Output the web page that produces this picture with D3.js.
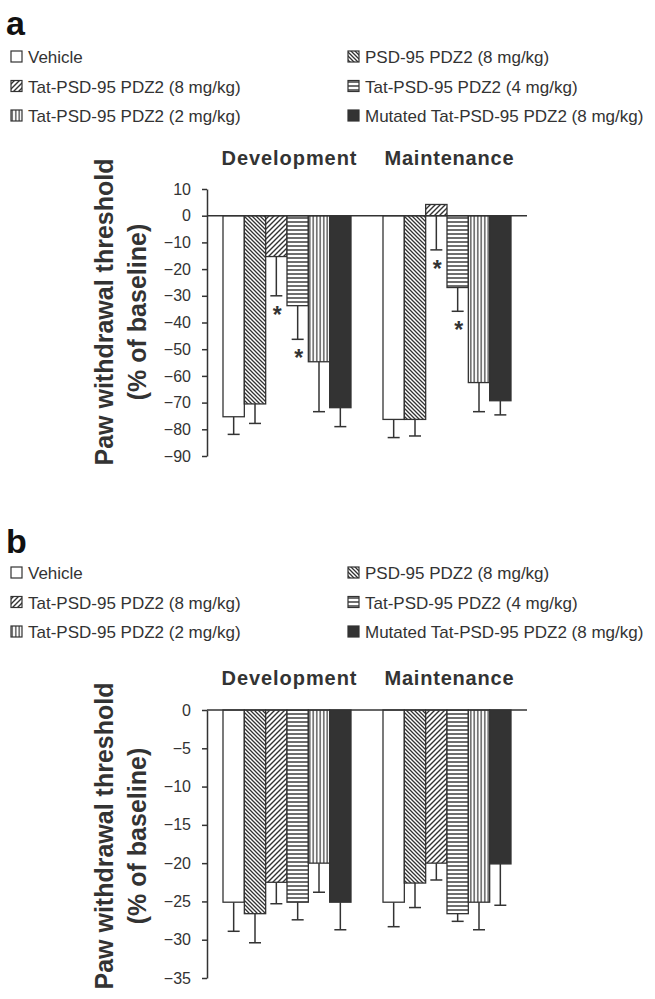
<!DOCTYPE html>
<html>
<head>
<meta charset="utf-8">
<script src="https://cdn.jsdelivr.net/npm/d3@7"></script>
<style>
  body { margin: 0; background: #fff; }
  text { font-family: "Liberation Sans", Arial, sans-serif; fill: #333; }
</style>
</head>
<body>
<div id="chart"></div>
<script>
// groups and series
var groups = ["Development", "Maintenance"];
var series = ["Vehicle", "PSD-95 PDZ2 (8 mg/kg)", "Tat-PSD-95 PDZ2 (8 mg/kg)",
              "Tat-PSD-95 PDZ2 (4 mg/kg)", "Tat-PSD-95 PDZ2 (2 mg/kg)",
              "Mutated Tat-PSD-95 PDZ2 (8 mg/kg)"];

// panel a values (% of baseline) and SEM
var aDev = [-75.3, -70.5, -15.3, -33.7, -54.7, -71.9];
var aDevErr = [6.6, 7.3, 14.7, 12.6, 18.7, 7.1];
var aMaint = [-76.3, -76.3, 4.2, -26.9, -62.5, -69.3];
var aMaintErr = [6.8, 6.2, 17.0, 8.9, 10.9, 5.3];
var aDevStar = [0, 0, 1, 1, 0, 0];
var aMaintStar = [0, 0, 1, 1, 0, 0];
var aTicks = [10, 0, -10, -20, -30, -40, -50, -60, -70, -80, -90];

// panel b values
var bDev = [-25.1, -26.6, -22.5, -25.1, -20.0, -25.1];
var bDevErr = [3.8, 3.8, 2.8, 2.3, 3.8, 3.6];
var bMaint = [-25.1, -22.6, -20.0, -26.6, -25.1, -20.1];
var bMaintErr = [3.2, 3.2, 2.2, 1.0, 3.6, 5.4];
var bDevStar = [0, 0, 0, 0, 0, 0];
var bMaintStar = [0, 0, 0, 0, 0, 0];
var bTicks = [0, -5, -10, -15, -20, -25, -30, -35];

var ink = "#333";
var fills = ["#fff", "url(#pBack)", "url(#pFwd)", "url(#pHoriz)", "url(#pVert)", ink];

var svg = d3.select("#chart").append("svg")
    .attr("width", 655)
    .attr("height", 999);

// hatch patterns
var defs = svg.append("defs");
function hatch(id, w, h, d, sw, col) {
    var p = defs.append("pattern")
        .attr("id", id)
        .attr("patternUnits", "userSpaceOnUse")
        .attr("width", w)
        .attr("height", h);
    p.append("rect").attr("width", w).attr("height", h).attr("fill", "#fff");
    p.append("path").attr("d", d).attr("stroke", col).attr("stroke-width", sw);
}
hatch("pBack", 4, 4, "M-1,-1 L5,5 M-1,3 L1,5 M3,-1 L5,1", 1.3, ink);
hatch("pFwd", 5, 5, "M-1,6 L6,-1 M-1,1 L1,-1 M4,6 L6,4", 1.4, ink);
hatch("pHoriz", 4, 4, "M0,2 L4,2", 1.7, "#555");
hatch("pVert", 3.5, 4, "M1.75,0 L1.75,4", 1.2, ink);

var x0 = d3.scaleBand().domain(groups).range([207, 527])
    .paddingInner(0.2).paddingOuter(0.1);
var x1 = d3.scaleBand().domain(series).range([0, x0.bandwidth()]);

function panel(opt) {
    var g = svg.append("g");

    g.append("text")
        .attr("x", 6).attr("y", opt.letterY)
        .style("font-size", "34px").style("font-weight", "bold")
        .style("fill", "#111")
        .text(opt.letter);

    // legend in two columns
    series.forEach(function (s, i) {
        var col = i % 2, row = Math.floor(i / 2);
        var lx = col ? 348 : 11;
        var ly = opt.legendY + row * 29.5;
        g.append("rect")
            .attr("x", lx).attr("y", ly - 6)
            .attr("width", 11).attr("height", 11)
            .attr("fill", fills[i]).attr("stroke", ink).attr("stroke-width", 1.2);
        g.append("text")
            .attr("x", lx + 17).attr("y", ly + 6)
            .style("font-size", "17px")
            .text(s);
    });

    var y = d3.scaleLinear().domain(opt.domain).range(opt.range);

    groups.forEach(function (gr) {
        g.append("text")
            .attr("x", x0(gr) + x0.bandwidth() / 2 + 2)
            .attr("y", opt.titleY)
            .attr("text-anchor", "middle")
            .attr("textLength", gr == "Development" ? 135 : 129)
            .attr("lengthAdjust", "spacing")
            .style("font-size", "20px").style("font-weight", "bold")
            .text(gr);
    });

    var rows = [];
    groups.forEach(function (gr, gi) {
        series.forEach(function (s, si) {
            rows.push({
                group: gr, key: s, i: si,
                value: opt.values[gi][si],
                err: opt.errs[gi][si],
                star: opt.stars[gi][si]
            });
        });
    });

    // error bars first so the bars cover their start
    var eb = g.append("g").attr("stroke", ink).attr("stroke-width", 1.5);
    rows.forEach(function (d) {
        var cx = x0(d.group) + x1(d.key) + x1.bandwidth() / 2;
        var yEnd = y(d.value - d.err);
        eb.append("line").attr("x1", cx).attr("x2", cx)
            .attr("y1", y(d.value)).attr("y2", yEnd);
        eb.append("line").attr("x1", cx - 6).attr("x2", cx + 6)
            .attr("y1", yEnd).attr("y2", yEnd);
        if (d.star) {
            g.append("text")
                .attr("x", cx + 1).attr("y", yEnd + 27)
                .attr("text-anchor", "middle")
                .style("font-size", "23px").style("font-weight", "bold")
                .text("*");
        }
    });

    g.selectAll(".bar").data(rows).enter().append("rect")
        .attr("class", "bar")
        .attr("x", function (d) { return x0(d.group) + x1(d.key); })
        .attr("width", x1.bandwidth())
        .attr("y", function (d) { return y(Math.max(0, d.value)); })
        .attr("height", function (d) { return Math.abs(y(d.value) - y(0)); })
        .attr("fill", function (d) { return fills[d.i]; })
        .attr("stroke", ink)
        .attr("stroke-width", 1.3);

    // zero line
    g.append("line")
        .attr("x1", 207).attr("x2", 527)
        .attr("y1", y(0)).attr("y2", y(0))
        .attr("stroke", ink).attr("stroke-width", 1.5);

    var axis = g.append("g")
        .attr("transform", "translate(207,0)")
        .call(d3.axisLeft(y).tickValues(opt.ticks).tickSize(5).tickSizeOuter(0).tickPadding(11));
    axis.select(".domain").attr("stroke", ink).attr("stroke-width", 1.5);
    axis.selectAll(".tick line").attr("stroke", ink).attr("stroke-width", 1.5);
    axis.selectAll(".tick text")
        .style("font-size", "16px")
        .style("font-family", "'Liberation Sans', Arial, sans-serif")
        .attr("fill", ink);

    var lab = g.append("text")
        .attr("transform", "translate(113," + opt.labelMid + ") rotate(-90)")
        .attr("text-anchor", "middle")
        .style("font-size", "25px").style("font-weight", "bold");
    lab.append("tspan").attr("x", 0).attr("y", 0).text("Paw withdrawal threshold");
    lab.append("tspan").attr("x", 0).attr("y", 33).text("(% of baseline)");
}

panel({
    letter: "a", letterY: 35, legendY: 57, titleY: 165, labelMid: 312,
    domain: [-90, 10], range: [456, 189], ticks: aTicks,
    values: [aDev, aMaint], errs: [aDevErr, aMaintErr], stars: [aDevStar, aMaintStar]
});

panel({
    letter: "b", letterY: 553, legendY: 573, titleY: 685, labelMid: 836,
    domain: [-35, 0], range: [978, 710], ticks: bTicks,
    values: [bDev, bMaint], errs: [bDevErr, bMaintErr], stars: [bDevStar, bMaintStar]
});
</script>
</body>
</html>
